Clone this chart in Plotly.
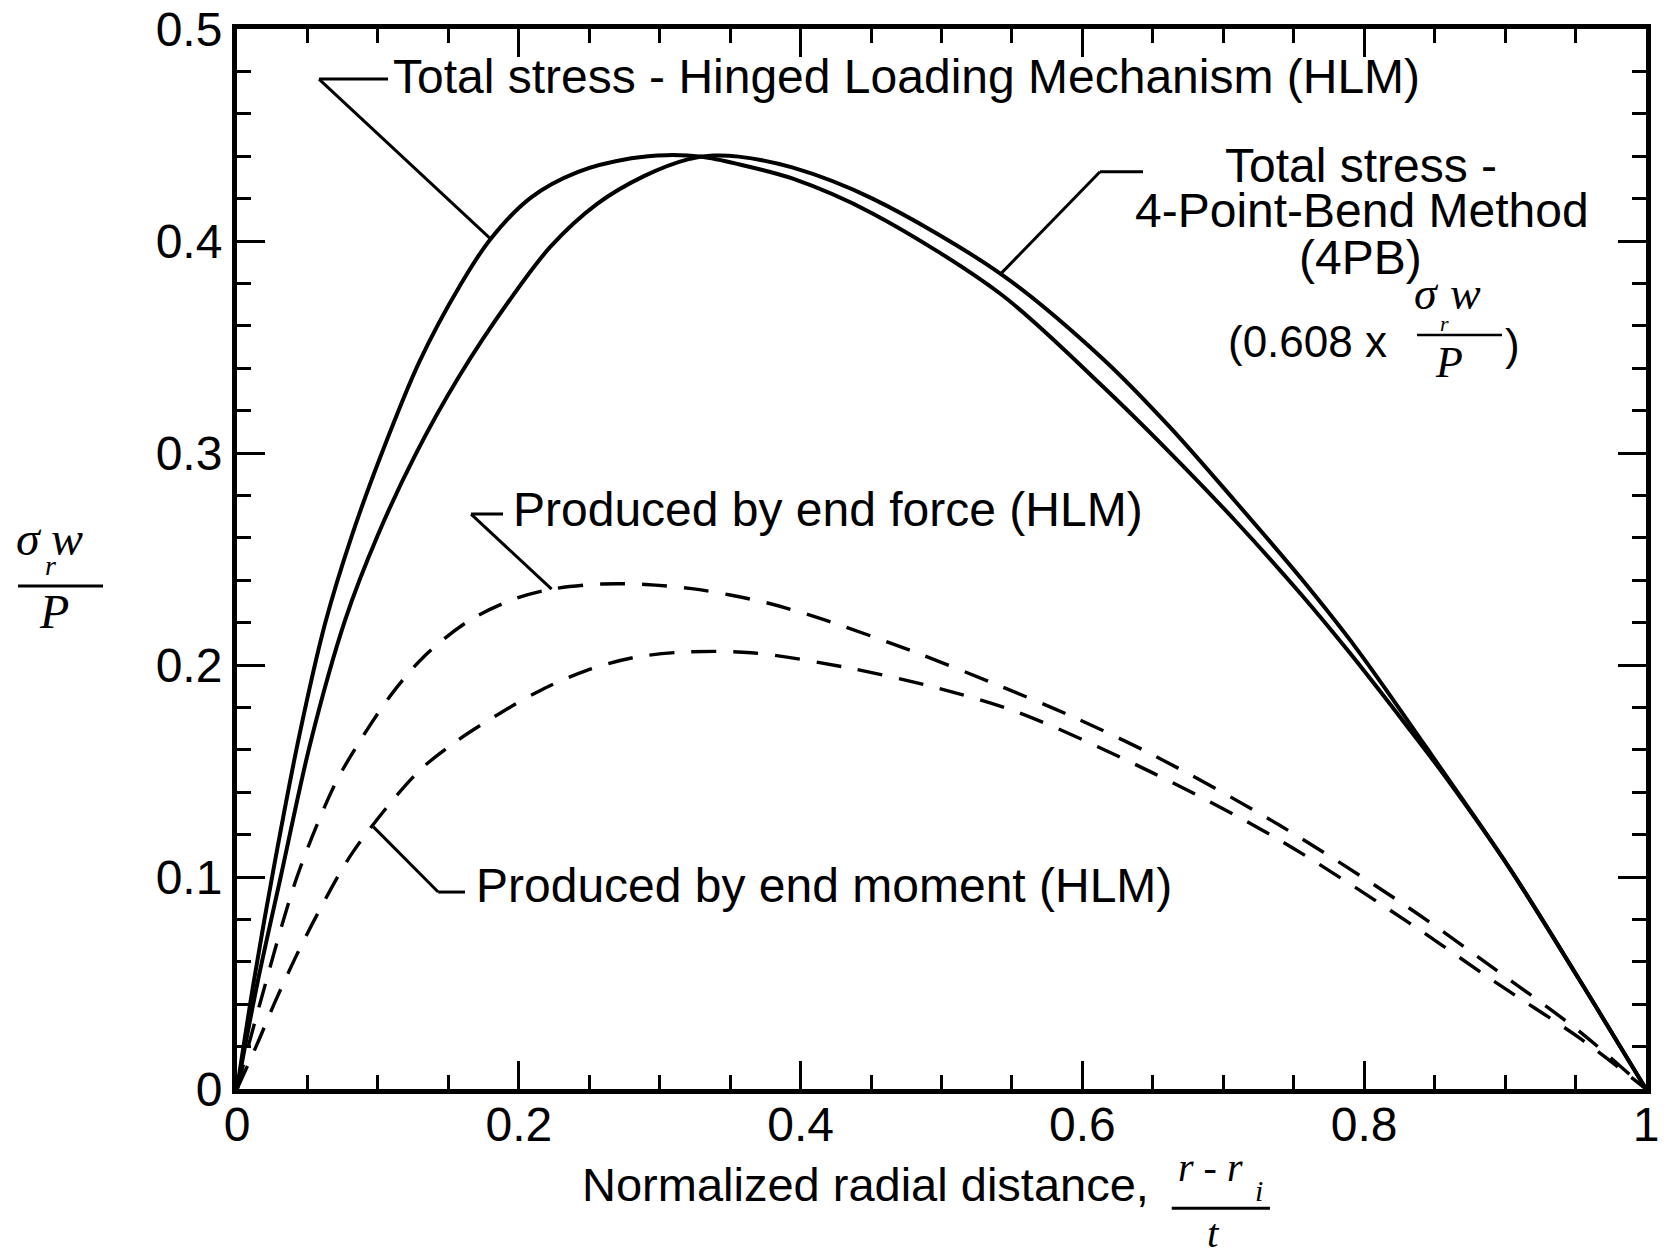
import numpy as np
import plotly.graph_objects as go

# ---------------- data ----------------
hlm_x = [0.0, 0.012, 0.026, 0.044, 0.0627, 0.081, 0.1028, 0.1294, 0.1583, 0.180,
         0.2086, 0.2417, 0.2798, 0.305, 0.33, 0.356, 0.394, 0.451, 0.542, 0.6143,
         0.6612, 0.708, 0.755, 0.79, 0.83, 0.8557, 0.9038, 0.9644, 1.0]
hlm_y = [0.0, 0.051, 0.104, 0.166, 0.220, 0.260, 0.300, 0.343, 0.379, 0.401,
         0.4205, 0.4325, 0.439, 0.4405, 0.4397, 0.4362, 0.4295, 0.413, 0.375, 0.3315,
         0.3008, 0.2684, 0.2335, 0.2055, 0.1715, 0.149, 0.1035, 0.0389, 0.0]

pb4_x = [0.0, 0.0145, 0.031, 0.052, 0.0769, 0.0999, 0.1263, 0.1578, 0.1938, 0.2225,
         0.2556, 0.2892, 0.3199, 0.338, 0.356, 0.394, 0.451, 0.542, 0.6144, 0.6613,
         0.7081, 0.755, 0.7948, 0.8557, 0.9038, 0.9644, 1.0]
pb4_y = [0.0, 0.050, 0.100, 0.163, 0.2215, 0.2612, 0.2988, 0.3363, 0.3724, 0.3973,
         0.4175, 0.4307, 0.4385, 0.4403, 0.4398, 0.4347, 0.420, 0.3845, 0.3445, 0.3128,
         0.2775, 0.2410, 0.2075, 0.150, 0.1035, 0.0389, 0.0]

force_x = [0.0, 0.017, 0.0428, 0.069, 0.0857, 0.110, 0.1335, 0.1649, 0.1955, 0.2233,
           0.2588, 0.2898, 0.3227, 0.35, 0.378, 0.416, 0.4794, 0.5363, 0.590, 0.6503,
           0.7397, 0.8316, 0.8928, 0.954, 1.0]
force_y = [0.0, 0.042, 0.1005, 0.143, 0.1625, 0.1865, 0.2045, 0.221, 0.2308, 0.2358,
           0.2382, 0.2380, 0.2360, 0.2330, 0.229, 0.2215, 0.2065, 0.1915, 0.1765, 0.1575,
           0.1245, 0.0855, 0.0565, 0.0265, 0.0]

moment_x = [0.0, 0.0145, 0.0266, 0.0411, 0.0567, 0.082, 0.1284, 0.1567, 0.1873, 0.2153,
            0.2483, 0.2815, 0.3145, 0.3649, 0.435, 0.498, 0.555, 0.6503, 0.7397, 0.8316,
            0.8928, 0.954, 1.0]
moment_y = [0.0, 0.0215, 0.0405, 0.0615, 0.082, 0.1115, 0.1495, 0.1645, 0.1775, 0.1880,
            0.1975, 0.2035, 0.2060, 0.2058, 0.1985, 0.1890, 0.1775, 0.1490, 0.1175, 0.0785,
            0.0505, 0.0235, 0.0]

x_tickvals = [0, 0.2, 0.4, 0.6, 0.8, 1.0]
x_ticktext = ["0", "0.2", "0.4", "0.6", "0.8", "1"]
y_tickvals = [0, 0.1, 0.2, 0.3, 0.4, 0.5]
y_ticktext = ["0", "0.1", "0.2", "0.3", "0.4", "0.5"]

label_hlm = "Total stress - Hinged Loading Mechanism (HLM)"
label_4pb = ["Total stress -", "4-Point-Bend Method", "(4PB)"]
label_force = "Produced by end force (HLM)"
label_moment = "Produced by end moment (HLM)"

# ---------------- figure ----------------
SANS = "Liberation Sans, Arial, Helvetica, sans-serif"
SERIF = "Liberation Serif, Times New Roman, serif"
BLACK = "#000000"

fig = go.Figure()
solid = dict(color=BLACK, width=4, shape="spline", smoothing=0.9)
dashed = dict(color=BLACK, width=3.4, dash="25px,17px", shape="spline", smoothing=0.9)
fig.add_trace(go.Scatter(x=hlm_x, y=hlm_y, mode="lines", line=solid))
fig.add_trace(go.Scatter(x=pb4_x, y=pb4_y, mode="lines", line=solid))
fig.add_trace(go.Scatter(x=force_x, y=force_y, mode="lines", line=dashed))
fig.add_trace(go.Scatter(x=moment_x, y=moment_y, mode="lines", line=dashed))

ann = []
shapes = []

def text(x, y, s, size=48, xanchor="left", ref="data", family=SANS):
    d = dict(x=x, y=y, text=s, showarrow=False, xanchor=xanchor, yanchor="middle",
             font=dict(family=family, size=size, color=BLACK))
    if ref == "paper":
        d.update(xref="paper", yref="paper")
    else:
        d.update(xref="x", yref="y")
    ann.append(d)

def seg(x0, y0, x1, y1, width=3, ref="data"):
    p = ref == "paper"
    shapes.append(dict(type="line", x0=x0, y0=y0, x1=x1, y1=y1,
                       xref="paper" if p else "x", yref="paper" if p else "y",
                       line=dict(color=BLACK, width=width)))

# leader lines: horizontal stub + diagonal to the curve (touch point from the data)
def leader(cx, cy, hx, tx, sx, sy):
    ty = float(np.interp(tx, sx, sy))
    seg(cx, cy, hx, cy)
    seg(cx, cy, tx, ty)

# HLM total
text(0.1096, 0.4774, label_hlm)
leader(0.0582, 0.4764, 0.1072, 0.180, hlm_x, hlm_y)
# 4PB total
text(0.7977, 0.4354, label_4pb[0], xanchor="center")
text(0.7984, 0.4142, label_4pb[1], xanchor="center")
text(0.7977, 0.3920, label_4pb[2], xanchor="center")
leader(0.6125, 0.4327, 0.6430, 0.542, pb4_x, pb4_y)
text(0.7019, 0.3524, "(0.608 x", size=44)
text(0.8439, 0.3752, "<i>σ</i>", size=46, xanchor="center", family=SERIF)
text(0.8722, 0.3752, "<i>w</i>", size=46, xanchor="center", family=SERIF)
text(0.8570, 0.3612, "<i>r</i>", size=22, xanchor="center", family=SERIF)
seg(0.8375, 0.3557, 0.8978, 0.3557, width=2.5)
text(0.8605, 0.3425, "<i>P</i>", size=44, xanchor="center", family=SERIF)
text(0.9056, 0.3514, ")", size=44, xanchor="center")
# end force
text(0.1948, 0.2734, label_force)
leader(0.1661, 0.2712, 0.1888, 0.2233, force_x, force_y)
# end moment
text(0.1684, 0.0958, label_moment)
leader(0.1428, 0.0929, 0.1618, 0.0968, moment_x, moment_y)

# x-axis title
text(0.2431, -0.0904, "Normalized radial distance,", size=47, ref="paper")
text(0.6906, -0.0736, "<i>r</i> - <i>r</i>", size=40, xanchor="center", ref="paper", family=SERIF)
text(0.7250, -0.0960, "<i>i</i>", size=30, xanchor="center", ref="paper", family=SERIF)
seg(0.6634, -0.1126, 0.7331, -0.1126, width=3, ref="paper")
text(0.6930, -0.1358, "<i>t</i>", size=41, xanchor="center", ref="paper", family=SERIF)

# y-axis title
text(-0.1476, 0.5190, "<i>σ</i>", size=48, xanchor="center", ref="paper", family=SERIF)
text(-0.1203, 0.5190, "<i>w</i>", size=48, xanchor="center", ref="paper", family=SERIF)
text(-0.1327, 0.4939, "<i>r</i>", size=28, xanchor="center", ref="paper", family=SERIF)
seg(-0.1554, 0.4745, -0.0951, 0.4745, width=3, ref="paper")
text(-0.1302, 0.4509, "<i>P</i>", size=48, xanchor="center", ref="paper", family=SERIF)

axis_common = dict(
    showline=True, linewidth=5, linecolor=BLACK, mirror="ticks",
    ticks="inside", ticklen=28, tickwidth=3, tickcolor=BLACK,
    showgrid=False, zeroline=False, automargin=False,
    tickfont=dict(family=SANS, size=48, color=BLACK),
)

fig.update_layout(
    width=1667, height=1257,
    margin=dict(l=237, r=21, t=29, b=168, pad=0, autoexpand=False),
    paper_bgcolor="white", plot_bgcolor="white",
    showlegend=False,
    annotations=ann, shapes=shapes,
    xaxis=dict(range=[0, 1], tickvals=x_tickvals, ticktext=x_ticktext,
               ticklabelstandoff=-11,
               minor=dict(dtick=0.05, ticks="inside", ticklen=14, tickwidth=3, tickcolor=BLACK),
               **axis_common),
    yaxis=dict(range=[0, 0.5], tickvals=y_tickvals, ticktext=y_ticktext,
               minor=dict(dtick=0.02, ticks="inside", ticklen=14, tickwidth=3, tickcolor=BLACK),
               **axis_common),
)

fig.write_html("out.html")
